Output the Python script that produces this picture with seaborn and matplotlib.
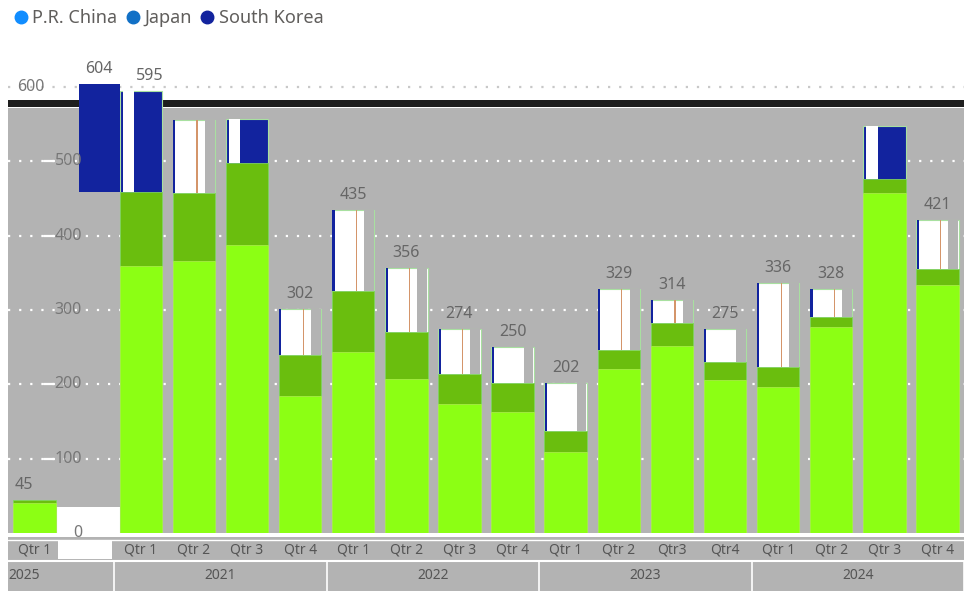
import matplotlib
matplotlib.use("Agg")
import matplotlib.pyplot as plt
import seaborn as sns
import pandas as pd
import numpy as np
from matplotlib.lines import Line2D
from matplotlib.patches import Rectangle

# ---------------- data ----------------
categories = ["2025 Q1", "2021 Q1", "2021 Q2", "2021 Q3", "2021 Q4",
              "2022 Q1", "2022 Q2", "2022 Q3", "2022 Q4",
              "2023 Q1", "2023 Q2", "2023 Q3", "2023 Q4",
              "2024 Q1", "2024 Q2", "2024 Q3", "2024 Q4"]
gap_category = "(blank)"
quarter_labels = ["Qtr 1", "", "Qtr 1", "Qtr 2", "Qtr 3", "Qtr 4", "Qtr 1", "Qtr 2", "Qtr 3",
                  "Qtr 4", "Qtr 1", "Qtr 2", "Qtr3", "Qtr4", "Qtr 1", "Qtr 2", "Qtr 3", "Qtr 4"]
years = ["2025", "2021", "2022", "2023", "2024"]
china = [40, 359, 366, 388, 185, 244, 207, 174, 163, 109, 221, 251, 206, 197, 277, 458, 334]
japan = [5, 100, 92, 110, 55, 82, 64, 40, 39, 28, 25, 31, 24, 26, 14, 18, 21]
korea = [0, 136, 98, 59, 62, 109, 85, 60, 48, 65, 83, 32, 45, 113, 37, 72, 66]
value_labels = ["45", "595", "", "", "302", "435", "356", "274", "250", "202",
                "329", "314", "275", "336", "328", "", "421"]
korea_dark = [False, True, False, True, False, False, False, False, False, False,
              False, False, False, False, False, True, False]
korea_line = [False, False, True, False, True, True, True, True, False, False,
              True, True, False, True, True, False, True]
phantom_base, phantom_top, phantom_label = 459, 604, "604"
series = ["P.R. China", "Japan", "South Korea"]
legend_colors = ["#118DFF", "#1170C6", "#12239E"]
yticks = [0, 100, 200, 300, 400, 500, 600]

# ---------------- styles ----------------
LIGHT = "#8CFF14"
DARK = "#6ABE0E"
NAVY = "#12239E"
GRAY = "#B3B3B3"
TXT = "#666666"
FONT = ["Noto Sans", "DejaVu Sans"]

sns.set_theme(style="white")
plt.rcParams["font.family"] = FONT

order = [categories[0], gap_category] + categories[1:]
pos = {c: order.index(c) for c in categories}

df = pd.DataFrame({"cat": categories, "china": china, "japan": japan, "korea": korea})
df["cj"] = df["china"] + df["japan"]
df["total"] = df["cj"] + df["korea"]

fig = plt.figure(figsize=(9.64, 5.91), dpi=100)
ax = fig.add_axes([8 / 964, 58 / 591, 1 - 8 / 964, 0.7796])
ax.set_xlim(-0.5, len(order) - 0.5)
ax.set_ylim(0, 620)

# plot-area background (gray) and dark band
ax.axhspan(0, 572, color=GRAY, zorder=0, lw=0)
ax.axhspan(573, 583, color="#1E1E1E", zorder=0.5, lw=0)
ax.add_patch(Rectangle((0.35, 0), 1.3, 35, color="white", zorder=0.6, lw=0))

# gridlines
for t in yticks[1:]:
    ax.axhline(t, color=("#C8C8C8" if t == 600 else "white"), lw=1.6,
               ls=(0, (1, 4)), zorder=0.7)

# stacked bars via seaborn (total, then china+japan, then china)
kcolors = {c: (NAVY if d else "white") for c, d in zip(categories, korea_dark)}
sns.barplot(data=df, x="cat", y="total", order=order, hue="cat", palette=kcolors,
            legend=False, width=0.8, ax=ax, edgecolor="#A8E0A0", linewidth=0.8,
            saturation=1, zorder=2)
sns.barplot(data=df, x="cat", y="cj", order=order, color=DARK, width=0.8, ax=ax,
            edgecolor="#7FD060", linewidth=0.6, saturation=1, zorder=3)
sns.barplot(data=df, x="cat", y="china", order=order, color=LIGHT, width=0.8, ax=ax,
            edgecolor="#B0F050", linewidth=0.5, saturation=1, zorder=4)

# details on the South Korea segment
w = 0.8
for i, c in enumerate(categories):
    if korea[i] <= 0:
        continue
    x0 = pos[c] - w / 2
    b = china[i] + japan[i]
    h = korea[i]
    if korea_dark[i]:
        ax.bar(x0 + w * 0.08, h, bottom=b, width=w * 0.26, align="edge",
               color="white", lw=0, zorder=2.5)
    else:
        ax.bar(x0 + w * 0.01, h, bottom=b, width=w * 0.05, align="edge",
               color=NAVY, lw=0, zorder=2.5)
        ax.bar(x0 + w * 0.76, h, bottom=b, width=w * 0.23, align="edge",
               color=GRAY, lw=0, zorder=2.5)
        if korea_line[i]:
            ax.bar(x0 + w * 0.56, h, bottom=b, width=w * 0.025, align="edge",
                   color="#D4956A", lw=0, zorder=2.6)

# phantom (ghost) segment in blank slot
gx = order.index(gap_category)
ax.bar(gx + 0.22, phantom_top - phantom_base, bottom=phantom_base, width=0.76,
       color=NAVY, lw=0, zorder=2)
ax.annotate(phantom_label, (gx + 0.22, phantom_top), xytext=(0, 5),
            textcoords="offset points", ha="center", va="bottom",
            fontsize=11.5, color=TXT, zorder=6)

# value labels
for i, c in enumerate(categories):
    if value_labels[i]:
        xoff = 0.17 if c == "2021 Q1" else (-0.2 if c == "2025 Q1" else 0)
        ax.annotate(value_labels[i], (pos[c] + xoff, df["total"][i]), xytext=(0, 5),
                    textcoords="offset points", ha="center", va="bottom",
                    fontsize=11.5, color=TXT, zorder=6)

# y tick labels (inside the plot) with small white dashes
for t in yticks:
    xf = 36 / 956 if t == 600 else 74 / 956
    ax.text(xf, t, str(t), transform=ax.get_yaxis_transform(), ha="right",
            va="center", fontsize=11.5, color="#777777", zorder=5)
    if t in (100, 200, 400, 500):
        ax.plot([36 / 956, 46 / 956], [t, t], transform=ax.get_yaxis_transform(),
                color="white", lw=1.6, zorder=5)

ax.set_xticks([])
ax.set_yticks([])
ax.set_xlabel("")
ax.set_ylabel("")
for s in ax.spines.values():
    s.set_visible(False)

# x-axis label area
axl = fig.add_axes([8 / 964, 0, 1 - 8 / 964, 54 / 591])
axl.set_xlim(ax.get_xlim())
axl.set_ylim(0, 1)
axl.set_facecolor(GRAY)
axl.set_xticks([])
axl.set_yticks([])
for s in axl.spines.values():
    s.set_visible(False)
axl.axhline(0.55, color="white", lw=1.5)
axl.axhline(0.95, color="white", lw=1.0)
axl.add_patch(Rectangle((0.45, 0.6), 1.0, 0.32, color="white", lw=0))
for i, q in enumerate(quarter_labels):
    if q:
        axl.text(i, 0.76, q, ha="center", va="center", fontsize=10, color="#555555")
year_spans = [(-0.5, 1.5), (1.5, 5.5), (5.5, 9.5), (9.5, 13.5), (13.5, 17.5)]
for y, (a, b) in zip(years, year_spans):
    if y == years[0]:
        axl.text(a, 0.28, y, ha="left", va="center", fontsize=10, color="#555555")
    else:
        axl.text((a + b) / 2, 0.28, y, ha="center", va="center", fontsize=10,
                 color="#555555")
    axl.axvline(b, ymin=0.0, ymax=0.55, color="white", lw=1.2)

# legend
handles = [Line2D([], [], marker="o", ls="", color=c, markersize=9) for c in legend_colors]
fig.legend(handles, series, loc="upper left", bbox_to_anchor=(-0.002, 1.012), ncol=3,
           frameon=False, handletextpad=0.3, columnspacing=0.5, fontsize=13,
           labelcolor="#605E5C", handlelength=0.7)

fig.savefig("out.png", dpi=100)
